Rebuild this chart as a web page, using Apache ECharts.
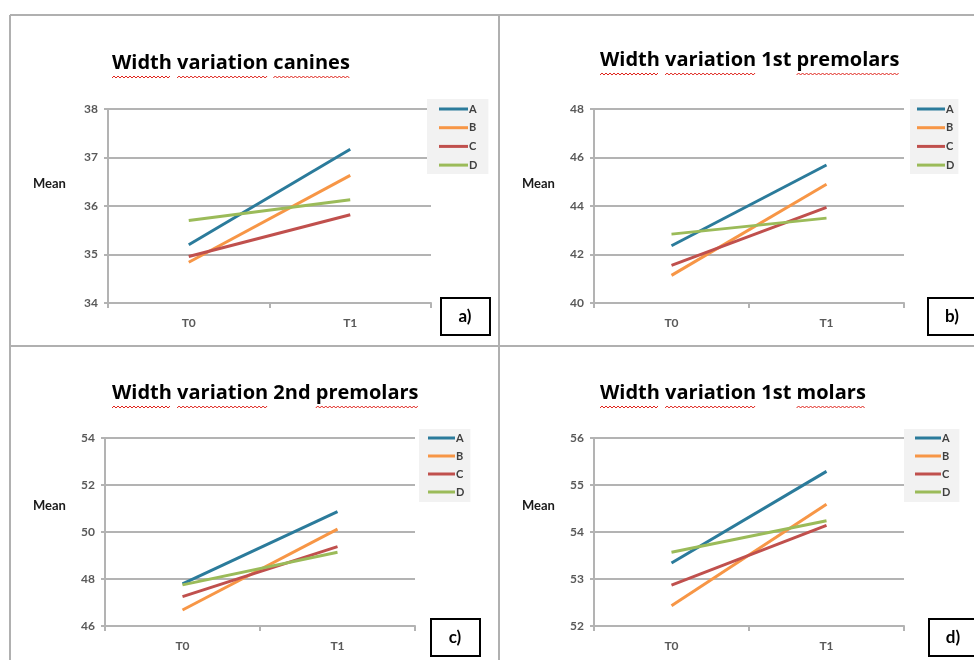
<!DOCTYPE html>
<html>
<head>
<meta charset="utf-8">
<script src="https://cdn.jsdelivr.net/npm/echarts@6/dist/echarts.min.js"></script>
<style>
html,body{margin:0;padding:0;background:#fff;}
#chart{width:974px;height:660px;}
</style>
</head>
<body>
<div id="chart"></div>
<script>
// ---- data ----
const categories = ['T0', 'T1'];
const seriesNames = ['A', 'B', 'C', 'D'];
const panelTitles = ['Width variation canines', 'Width variation 1st premolars', 'Width variation 2nd premolars', 'Width variation 1st molars'];
const panelLetters = ['a)', 'b)', 'c)', 'd)'];
const yMins = [34, 40, 46, 52];
const yMaxs = [38, 48, 54, 56];
const yIntervals = [1, 2, 2, 1];

const caninesA = [35.20, 37.17];
const caninesB = [34.84, 36.63];
const caninesC = [34.96, 35.82];
const caninesD = [35.70, 36.13];

const premolars1A = [42.36, 45.69];
const premolars1B = [41.14, 44.90];
const premolars1C = [41.55, 43.94];
const premolars1D = [42.84, 43.50];

const premolars2A = [47.79, 50.87];
const premolars2B = [46.68, 50.12];
const premolars2C = [47.25, 49.38];
const premolars2D = [47.75, 49.14];

const molars1A = [53.34, 55.29];
const molars1B = [52.43, 54.59];
const molars1C = [52.87, 54.14];
const molars1D = [53.57, 54.24];

const panelData = [
  [caninesA, caninesB, caninesC, caninesD],
  [premolars1A, premolars1B, premolars1C, premolars1D],
  [premolars2A, premolars2B, premolars2C, premolars2D],
  [molars1A, molars1B, molars1C, molars1D]
];

// ---- styling / layout ----
const colors = ['#2b7b9b', '#f79646', '#c0504d', '#9bbb59'];
const FONT = 'Lato, "Open Sans", sans-serif';
const TITLE_FONT = '"Open Sans", Lato, sans-serif';
const gridBoxes = [
  {left: 108, top: 109, width: 323, height: 194},
  {left: 594, top: 109, width: 310, height: 194},
  {left: 105, top: 438, width: 310, height: 188},
  {left: 594, top: 438, width: 310, height: 188}
];
const legendBoxes = [
  {left: 427, top: 99, padding: [4.5, 11, 3.5, 12], itemWidth: 29, gap: 7.7},
  {left: 910, top: 99, padding: [4.5, 4, 3.5, 7], itemWidth: 28, gap: 7.7},
  {left: 419, top: 429, padding: [3.5, 6, 4.5, 9], itemWidth: 27, gap: 7},
  {left: 904, top: 429, padding: [3.5, 9, 4.5, 11], itemWidth: 26, gap: 7}
];
const titlePos = [
  {left: 112, top: 53, baseline: 72},
  {left: 600, top: 50, baseline: 69},
  {left: 112, top: 383, baseline: 402},
  {left: 600, top: 383, baseline: 402}
];
const meanPos = [[33, 185], [522, 185], [33, 507], [522, 507]];
const letterBoxes = [
  {x: 441, y: 298, w: 49, h: 37},
  {x: 928, y: 298, w: 60, h: 37},
  {x: 431, y: 619, w: 49, h: 37},
  {x: 929, y: 619, w: 60, h: 37}
];

const grids = [], xAxes = [], yAxes = [], series = [], legends = [], titles = [], graphics = [];

// measure text for spell-check squiggles
const mctx = document.createElement('canvas').getContext('2d');
mctx.font = 'bold 20px ' + TITLE_FONT;

panelData.forEach((rows, p) => {
  grids.push(Object.assign({containLabel: false}, gridBoxes[p]));
  xAxes.push({
    type: 'category', gridIndex: p, data: categories, boundaryGap: true,
    axisLine: {lineStyle: {color: '#b3b3b3', width: 2}},
    axisTick: {show: true, length: 5, alignWithLabel: false, lineStyle: {color: '#b3b3b3', width: 2}},
    axisLabel: {color: '#595959', fontFamily: FONT, fontSize: 12, fontWeight: 'bold', margin: 14}
  });
  yAxes.push({
    type: 'value', gridIndex: p, min: yMins[p], max: yMaxs[p], interval: yIntervals[p],
    axisLine: {show: true, lineStyle: {color: '#b3b3b3', width: 2}},
    axisTick: {show: true, length: 4, lineStyle: {color: '#b3b3b3', width: 2}},
    splitLine: {show: true, lineStyle: {color: '#b3b3b3', width: 2}},
    axisLabel: {color: '#595959', fontFamily: FONT, fontSize: 12, fontWeight: 'bold', margin: 10}
  });
  rows.forEach((vals, s) => {
    series.push({
      type: 'line', name: seriesNames[s], xAxisIndex: p, yAxisIndex: p,
      data: vals, symbol: 'none', color: colors[s],
      lineStyle: {width: 3, color: colors[s]}, animation: false, silent: true
    });
  });
  const lb = legendBoxes[p];
  legends.push({
    data: seriesNames.map(n => ({name: n})),
    icon: 'rect',
    orient: 'vertical', left: lb.left, top: lb.top, padding: lb.padding,
    itemWidth: lb.itemWidth, itemHeight: 3, itemGap: lb.gap,
    backgroundColor: '#f2f2f2', selectedMode: false,
    textStyle: {color: '#404040', fontFamily: FONT, fontSize: 11, fontWeight: 'bold', padding: [0, 0, 0, -4]}
  });
  const tp = titlePos[p];
  titles.push({
    text: panelTitles[p], left: tp.left, top: tp.top, padding: 0,
    textStyle: {fontFamily: TITLE_FONT, fontWeight: 'bold', fontSize: 20, color: '#000'}
  });
  // spell-check squiggles under non-numeric words
  const words = panelTitles[p].split(' ');
  let prefix = '';
  words.forEach((w) => {
    const x0 = tp.left + mctx.measureText(prefix).width;
    const ww = mctx.measureText(w).width;
    prefix += w + ' ';
    if (/\d/.test(w)) return;
    const pts = [];
    const y = tp.baseline + 5;
    for (let x = 0, k = 0; x <= ww; x += 2, k++) pts.push([x0 + x, y + (k % 2 ? -1 : 1)]);
    graphics.push({type: 'polyline', silent: true, shape: {points: pts}, style: {stroke: '#e0241c', lineWidth: 1, fill: null}});
  });
  graphics.push({
    type: 'text', left: meanPos[p][0], top: meanPos[p][1] - 8, silent: true,
    style: {text: 'Mean', font: 'bold 13px ' + FONT, fill: '#1a1a1a'}
  });
  const b = letterBoxes[p];
  graphics.push({
    type: 'rect', silent: true, shape: {x: b.x, y: b.y, width: b.w, height: b.h},
    style: {fill: '#fff', stroke: '#000', lineWidth: 2}
  });
  graphics.push({
    type: 'text', silent: true, x: b.x + 24, y: b.y + b.h / 2,
    style: {text: panelLetters[p], font: 'bold 17px ' + FONT, fill: '#000', align: 'center', verticalAlign: 'middle'}
  });
});

// panel frame lines
const frameStyle = {stroke: '#b0b0b0', lineWidth: 2};
[[10, 15, 974, 15], [10, 15, 10, 660], [499, 15, 499, 660], [10, 346, 974, 346]].forEach(l => {
  graphics.push({type: 'line', silent: true, shape: {x1: l[0], y1: l[1], x2: l[2], y2: l[3]}, style: frameStyle, z: -1});
});

const chart = echarts.init(document.getElementById('chart'), null, {renderer: 'canvas'});
chart.setOption({
  backgroundColor: '#fff',
  animation: false,
  title: titles,
  grid: grids,
  xAxis: xAxes,
  yAxis: yAxes,
  legend: legends,
  series: series,
  graphic: graphics
});
</script>
</body>
</html>
